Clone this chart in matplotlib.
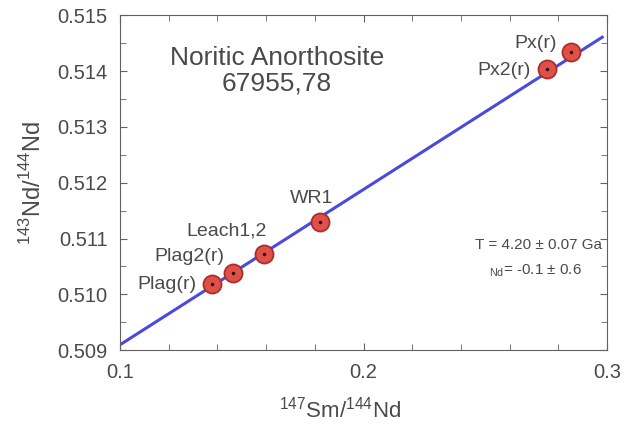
import numpy as np
import matplotlib.pyplot as plt
from matplotlib.ticker import MultipleLocator

plt.rcParams['font.family'] = ['Liberation Sans', 'DejaVu Sans']

# data
labels = ['Plag(r)', 'Plag2(r)', 'Leach1,2', 'WR1', 'Px2(r)', 'Px(r)']
sm_nd = [0.1378, 0.1464, 0.1591, 0.1821, 0.2754, 0.2852]
nd_nd = [0.51018, 0.51039, 0.51073, 0.51130, 0.51404, 0.51434]
# isochron fit
slope = 0.02785
intercept = 0.50631
line_x = [0.1, 0.298]

text_col = '#4a4a4a'

fig = plt.figure(figsize=(6.35, 4.29), dpi=100)
ax = fig.add_axes([0.189, 0.184, 0.767, 0.780])

lx = np.array(line_x)
ax.plot(lx, intercept + slope * lx, color='#4a4ae0', lw=2.2, zorder=2)
ax.plot(sm_nd, nd_nd, 'o', ms=13, mfc='#e05048', mec='#a83028', mew=1.3, zorder=3)
ax.plot(sm_nd, nd_nd, '.', ms=3, color='#301010', zorder=4)

# label offsets in points
offs = {'Plag(r)': (-11, 0, 'right'),
        'Plag2(r)': (-6, 11.5, 'right'),
        'Leach1,2': (-27, 16.5, 'center'),
        'WR1': (-6, 16.5, 'center'),
        'Px2(r)': (-12, -1, 'right'),
        'Px(r)': (-10, 6.5, 'right')}
for lab, x, y in zip(labels, sm_nd, nd_nd):
    dx, dy, ha = offs[lab]
    ax.annotate(lab, (x, y), xytext=(dx, dy), textcoords='offset points',
                ha=ha, va='center', fontsize=14, color=text_col)

ax.text(0.1645, 0.51401, 'Noritic Anorthosite\n67955,78', ha='center', va='center',
        fontsize=19, color=text_col, linespacing=1.05)
ax.text(0.2717, 0.51089, 'T = 4.20 \u00b1 0.07 Ga', ha='center', va='center',
        fontsize=11, color=text_col)
ax.text(0.2705, 0.51042, '$_{\\mathregular{Nd}}$= -0.1 \u00b1 0.6', ha='center', va='center',
        fontsize=11, color=text_col)

ax.set_xlim(0.1, 0.3)
ax.set_ylim(0.509, 0.515)
ax.xaxis.set_major_locator(MultipleLocator(0.1))
ax.xaxis.set_minor_locator(MultipleLocator(0.02))
ax.yaxis.set_major_locator(MultipleLocator(0.001))
ax.yaxis.set_minor_locator(MultipleLocator(0.0005))
ax.tick_params(which='both', direction='in', top=True, right=True,
               colors='#606060', labelcolor=text_col, labelsize=14.5)
ax.tick_params(which='major', length=5, pad=9)
ax.tick_params(which='minor', length=4)
ax.xaxis.set_major_formatter(plt.FuncFormatter(lambda v, p: '%g' % round(v, 3)))
ax.yaxis.set_major_formatter(plt.FuncFormatter(lambda v, p: '%.3f' % v))
for s in ax.spines.values():
    s.set_color('#606060')

ax.set_xlabel('$^{\\mathregular{147}}$Sm/$^{\\mathregular{144}}$Nd', fontsize=16,
              color=text_col, labelpad=11, x=0.452)
ax.set_ylabel('$^{\\mathregular{143}}$Nd/$^{\\mathregular{144}}$Nd', fontsize=17,
              color=text_col, labelpad=8)

fig.savefig('out.png', dpi=100)
